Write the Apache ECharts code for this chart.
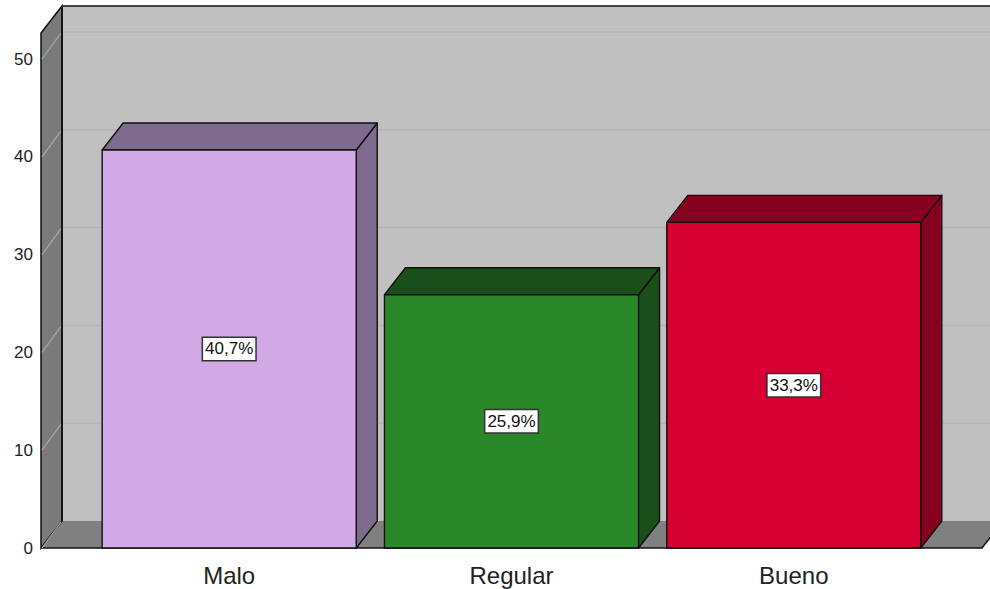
<!DOCTYPE html>
<html>
<head>
<meta charset="utf-8">
<script src="https://cdn.jsdelivr.net/npm/echarts@6/dist/echarts.min.js"></script>
<style>html,body{margin:0;padding:0;background:#fff}#c{width:990px;height:589px}</style>
</head>
<body>
<div id="c"></div>
<script>
const categories = ['Malo', 'Regular', 'Bueno'];
const values = [40.7, 25.9, 33.3];
const yTicks = [0, 10, 20, 30, 40, 50];

const Y_MAX = 52.66;
const X_MIN = -2 / 3, X_MAX = 8 / 3;
const DX = 21, DY = -27;
const BAR_RATIO = 0.9;
const frontColors = ['#d1a9e5', '#2a882a', '#d60032'];
const darkColors = ['#7f6b8d', '#1a4f1a', '#860020'];

const chart = echarts.init(document.getElementById('c'), null, { renderer: 'svg' });

function frameItem(params, api) {
  const pTL = api.coord([X_MIN, Y_MAX]);
  const pBL = api.coord([X_MIN, 0]);
  const pBR = api.coord([X_MAX, 0]);
  const ch = [];
  ch.push({ type: 'rect', shape: { x: pBL[0] + DX, y: pTL[1] + DY, width: 2000, height: pBL[1] - pTL[1] },
    style: { fill: '#c0c0c0', stroke: null } });
  yTicks.forEach(t => {
    if (t === 0) return;
    const y = api.coord([X_MIN, t])[1] + DY;
    ch.push({ type: 'line', shape: { x1: pBL[0] + DX, y1: y, x2: 2000, y2: y },
      style: { stroke: '#b4b4b4', lineWidth: 1.5 } });
  });
  ch.push({ type: 'line', shape: { x1: pTL[0] + DX, y1: pTL[1] + DY, x2: 2000, y2: pTL[1] + DY },
    style: { stroke: '#111', lineWidth: 1.5 } });
  ch.push({ type: 'polygon', shape: { points: [pBL, [pBL[0] + DX, pBL[1] + DY], [pBR[0] + DX, pBR[1] + DY], pBR] },
    style: { fill: '#808080', stroke: null } });
  ch.push({ type: 'polyline', shape: { points: [pBL, pBR, [pBR[0] + DX, pBR[1] + DY]] },
    style: { stroke: '#111', lineWidth: 1.5, fill: null } });
  ch.push({ type: 'polygon', shape: { points: [pBL, pTL, [pTL[0] + DX, pTL[1] + DY], [pBL[0] + DX, pBL[1] + DY]] },
    style: { fill: '#7a7a7a', stroke: '#111', lineWidth: 1.5 } });
  yTicks.forEach(t => {
    const y = api.coord([X_MIN, t])[1];
    ch.push({ type: 'line', shape: { x1: pBL[0] + 1, y1: y, x2: pBL[0] + DX - 1, y2: y + DY + 1 },
      style: { stroke: '#a8a8a8', lineWidth: 1.2 } });
  });
  ch.push({ type: 'line', shape: { x1: pBL[0] + DX, y1: pTL[1] + DY, x2: pBL[0] + DX, y2: pBL[1] + DY },
    style: { stroke: '#111', lineWidth: 1.8 } });
  return { type: 'group', children: ch };
}

function barItem(params, api) {
  const i = api.value(0), v = api.value(1);
  const w = api.size([BAR_RATIO, 0])[0];
  const c0 = api.coord([i, 0]);
  const cT = api.coord([i, v]);
  const x0 = c0[0] - w / 2, x1 = c0[0] + w / 2;
  const yB = c0[1], yT = cT[1];
  const st = { stroke: '#111', lineWidth: 1.4, lineJoin: 'round' };
  const txt = v.toFixed(1).replace('.', ',') + '%';
  return {
    type: 'group',
    children: [
      { type: 'polygon', shape: { points: [[x1, yT], [x1 + DX, yT + DY], [x1 + DX, yB + DY], [x1, yB]] },
        style: Object.assign({ fill: darkColors[i] }, st) },
      { type: 'polygon', shape: { points: [[x0, yT], [x0 + DX, yT + DY], [x1 + DX, yT + DY], [x1, yT]] },
        style: Object.assign({ fill: darkColors[i] }, st) },
      { type: 'rect', shape: { x: x0, y: yT, width: w, height: yB - yT },
        style: Object.assign({ fill: frontColors[i] }, st) },
      { type: 'text', x: c0[0], y: (yT + yB) / 2,
        style: { text: txt, fill: '#111', font: '17px "Liberation Sans", Arial, sans-serif',
          align: 'center', verticalAlign: 'middle', backgroundColor: '#fff',
          borderColor: '#333', borderWidth: 1.5, padding: [3, 2, 2, 2] } },
      { type: 'text', x: c0[0], y: yB + 27,
        style: { text: categories[i], fill: '#222', font: '24px "Liberation Sans", Arial, sans-serif',
          align: 'center', verticalAlign: 'middle' } }
    ]
  };
}

chart.setOption({
  animation: false,
  grid: { left: 41, right: 8, top: 33, bottom: 41 },
  xAxis: { type: 'value', min: X_MIN, max: X_MAX, show: false },
  yAxis: {
    type: 'value', min: 0, max: Y_MAX, interval: 10,
    axisLine: { show: false }, axisTick: { show: false }, splitLine: { show: false },
    axisLabel: { margin: 8, color: '#222', fontSize: 17, fontFamily: '"Liberation Sans", Arial, sans-serif',
      formatter: v => (yTicks.indexOf(v) >= 0 ? String(v) : '') }
  },
  series: [
    { type: 'custom', renderItem: frameItem, data: [[0, 0]], clip: false, z: 1, silent: true },
    { type: 'custom', renderItem: barItem, data: values.map((v, i) => [i, v]), clip: false, z: 2,
      encode: { x: 0, y: 1 } }
  ]
});
</script>
</body>
</html>
